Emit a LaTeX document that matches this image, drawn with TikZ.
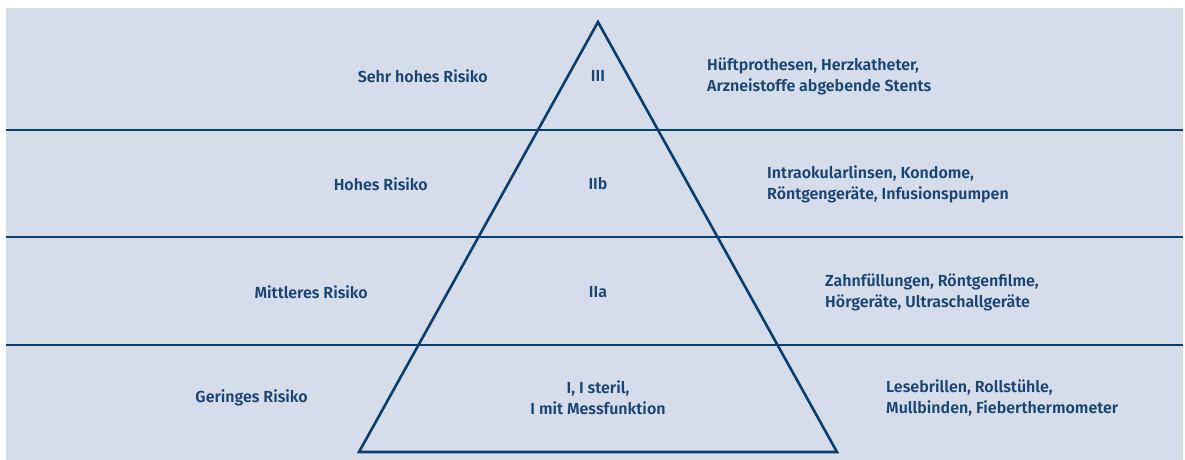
\documentclass[tikz,border=0pt]{standalone}
\usepackage{fontspec}
\setmainfont{Fira Sans}[UprightFont=* SemiBold]
\usepackage{tikz}
\usetikzlibrary{positioning,calc}
\definecolor{bgblue}{HTML}{D6DDEA}
\definecolor{navy}{HTML}{0F3D6B}
\definecolor{txtblue}{HTML}{1A4572}

\begin{document}
\begin{tikzpicture}[x=1pt, y=-1pt,
  band/.style={draw=navy, line width=2.6pt},
  risk/.style={anchor=east, inner sep=0pt, text=txtblue, font=\fontsize{16}{21}\selectfont},
  klasse/.style={inner sep=0pt, text=txtblue, align=center, font=\fontsize{16}{21}\selectfont},
  beisp/.style={anchor=west, inner sep=0pt, text=txtblue, align=left, font=\fontsize{16}{21}\selectfont}
]
\useasboundingbox (0,0) rectangle (1185,460);
\fill[bgblue] (6,8) rectangle (1183,460);

% horizontal bands
\coordinate (L1) at (6,130);   \coordinate (R1) at (1183,130);
\coordinate (L2) at (6,237);   \coordinate (R2) at (1183,237);
\coordinate (L3) at (6,345);   \coordinate (R3) at (1183,345);
\draw[band] (L1) -- (R1);
\draw[band] (L2) -- (R2);
\draw[band] (L3) -- (R3);

% pyramid
\coordinate (TA) at (598,22);
\coordinate (TL) at (359,452);
\coordinate (TR) at (837,452);
\draw[band, line join=miter] (TA) -- (TL) -- (TR) -- cycle;

% risk levels
\node[risk] (R-III) at (488,76) {Sehr hohes Risiko};
\node[risk] (R-IIb) at (428,184) {Hohes Risiko};
\node[risk] (R-IIa) at (368,292) {Mittleres Risiko};
\node[risk] (R-I) at (308,398) {Geringes Risiko};

% classes
\node[klasse] (K-III) at (598,76) {III};
\node[klasse] (K-IIb) at (598,184) {IIb};
\node[klasse] (K-IIa) at (598,292) {IIa};
\node[klasse] (K-I) at (598,398) {I, I steril,\\I mit Messfunktion};

% examples
\node[beisp] (B-III) at (707,76) {Hüftprothesen, Herzkatheter,\\Arzneistoffe abgebende Stents};
\node[beisp] (B-IIb) at (767,184) {Intraokularlinsen, Kondome,\\Röntgengeräte, Infusionspumpen};
\node[beisp] (B-IIa) at (825,292) {Zahnfüllungen, Röntgenfilme,\\Hörgeräte, Ultraschallgeräte};
\node[beisp] (B-I) at (886,398) {Lesebrillen, Rollstühle,\\Mullbinden, Fieberthermometer};
\end{tikzpicture}
\end{document}
